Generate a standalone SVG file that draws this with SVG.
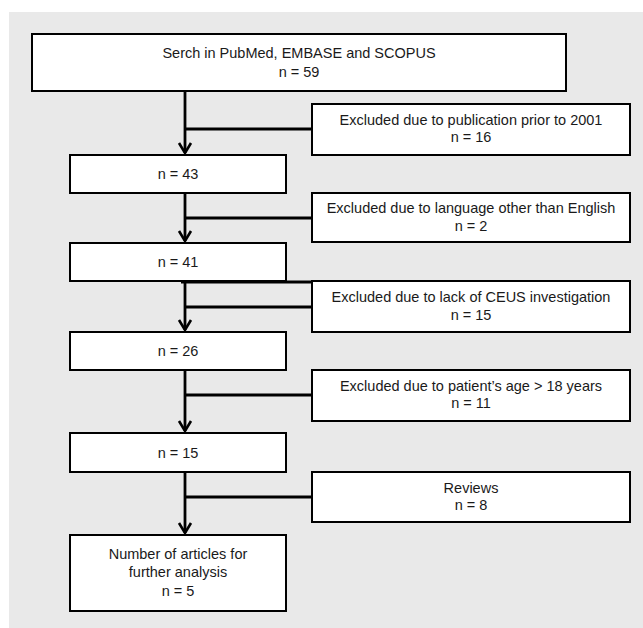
<svg xmlns="http://www.w3.org/2000/svg" width="643" height="628" viewBox="0 0 643 628">
<style>
.box{fill:#fff;stroke:#000;stroke-width:2}
.sh{fill:#000}
text{font-family:"Liberation Sans",Arial,sans-serif;font-size:14.5px;fill:#1a1a1a;text-anchor:middle}
.ln{stroke:#000;stroke-width:2.8;fill:none}
.ah{stroke:#000;stroke-width:2.6;fill:none;stroke-linejoin:miter}
</style>
<rect x="9" y="12" width="634" height="616" fill="#e9e9e9"/>
<g id="connectors">
<line class="ln" x1="185" y1="91" x2="185" y2="153"/>
<line class="ln" x1="185" y1="129" x2="312" y2="129"/>
<polyline class="ah" points="179,143 185,153 191,143"/>
<line class="ln" x1="185" y1="193" x2="185" y2="241"/>
<line class="ln" x1="185" y1="218" x2="312" y2="218"/>
<polyline class="ah" points="179,231 185,241 191,231"/>
<line class="ln" x1="181" y1="282" x2="312" y2="282"/>
<line class="ln" x1="185" y1="282" x2="185" y2="330"/>
<line class="ln" x1="185" y1="307" x2="312" y2="307"/>
<polyline class="ah" points="179,320 185,330 191,320"/>
<line class="ln" x1="185" y1="370" x2="185" y2="431"/>
<line class="ln" x1="185" y1="395" x2="312" y2="395"/>
<polyline class="ah" points="179,421 185,431 191,421"/>
<line class="ln" x1="185" y1="472" x2="185" y2="533"/>
<line class="ln" x1="185" y1="497" x2="312" y2="497"/>
<polyline class="ah" points="179,523 185,533 191,523"/>
</g>
<g id="search">
<rect class="sh" x="33" y="35" width="534" height="57"/>
<rect class="box" x="32" y="34" width="534" height="57"/>
<text x="299" y="58">Serch in PubMed, EMBASE and SCOPUS</text>
<text x="299" y="77">n = 59</text>
</g>
<g id="excl1">
<rect class="sh" x="313" y="105" width="318" height="51"/>
<rect class="box" x="312" y="104" width="318" height="51"/>
<text x="471" y="125">Excluded due to publication prior to 2001</text>
<text x="471" y="142">n = 16</text>
</g>
<g id="n43">
<rect class="sh" x="71" y="156" width="216" height="38"/>
<rect class="box" x="70" y="155" width="216" height="38"/>
<text x="178" y="179">n = 43</text>
</g>
<g id="excl2">
<rect class="sh" x="313" y="194" width="318" height="49"/>
<rect class="box" x="312" y="193" width="318" height="49"/>
<text x="471" y="213">Excluded due to language other than English</text>
<text x="471" y="231">n = 2</text>
</g>
<g id="n41">
<rect class="sh" x="71" y="244" width="216" height="38"/>
<rect class="box" x="70" y="243" width="216" height="38"/>
<text x="178" y="267">n = 41</text>
</g>
<g id="excl3">
<rect class="sh" x="313" y="282" width="318" height="51"/>
<rect class="box" x="312" y="281" width="318" height="51"/>
<text x="471" y="302">Excluded due to lack of CEUS investigation</text>
<text x="471" y="320">n = 15</text>
</g>
<g id="n26">
<rect class="sh" x="71" y="333" width="216" height="38"/>
<rect class="box" x="70" y="332" width="216" height="38"/>
<text x="178" y="356">n = 26</text>
</g>
<g id="excl4">
<rect class="sh" x="313" y="371" width="318" height="51"/>
<rect class="box" x="312" y="370" width="318" height="51"/>
<text x="471" y="391">Excluded due to patient’s age &gt; 18 years</text>
<text x="471" y="408">n = 11</text>
</g>
<g id="n15">
<rect class="sh" x="71" y="434" width="216" height="39"/>
<rect class="box" x="70" y="433" width="216" height="39"/>
<text x="178" y="458">n = 15</text>
</g>
<g id="reviews">
<rect class="sh" x="313" y="473" width="318" height="50"/>
<rect class="box" x="312" y="472" width="318" height="50"/>
<text x="471" y="493">Reviews</text>
<text x="471" y="510">n = 8</text>
</g>
<g id="final">
<rect class="sh" x="71" y="536" width="216" height="76"/>
<rect class="box" x="70" y="535" width="216" height="76"/>
<text x="178" y="559">Number of articles for</text>
<text x="178" y="577">further analysis</text>
<text x="178" y="596">n = 5</text>
</g>
</svg>
